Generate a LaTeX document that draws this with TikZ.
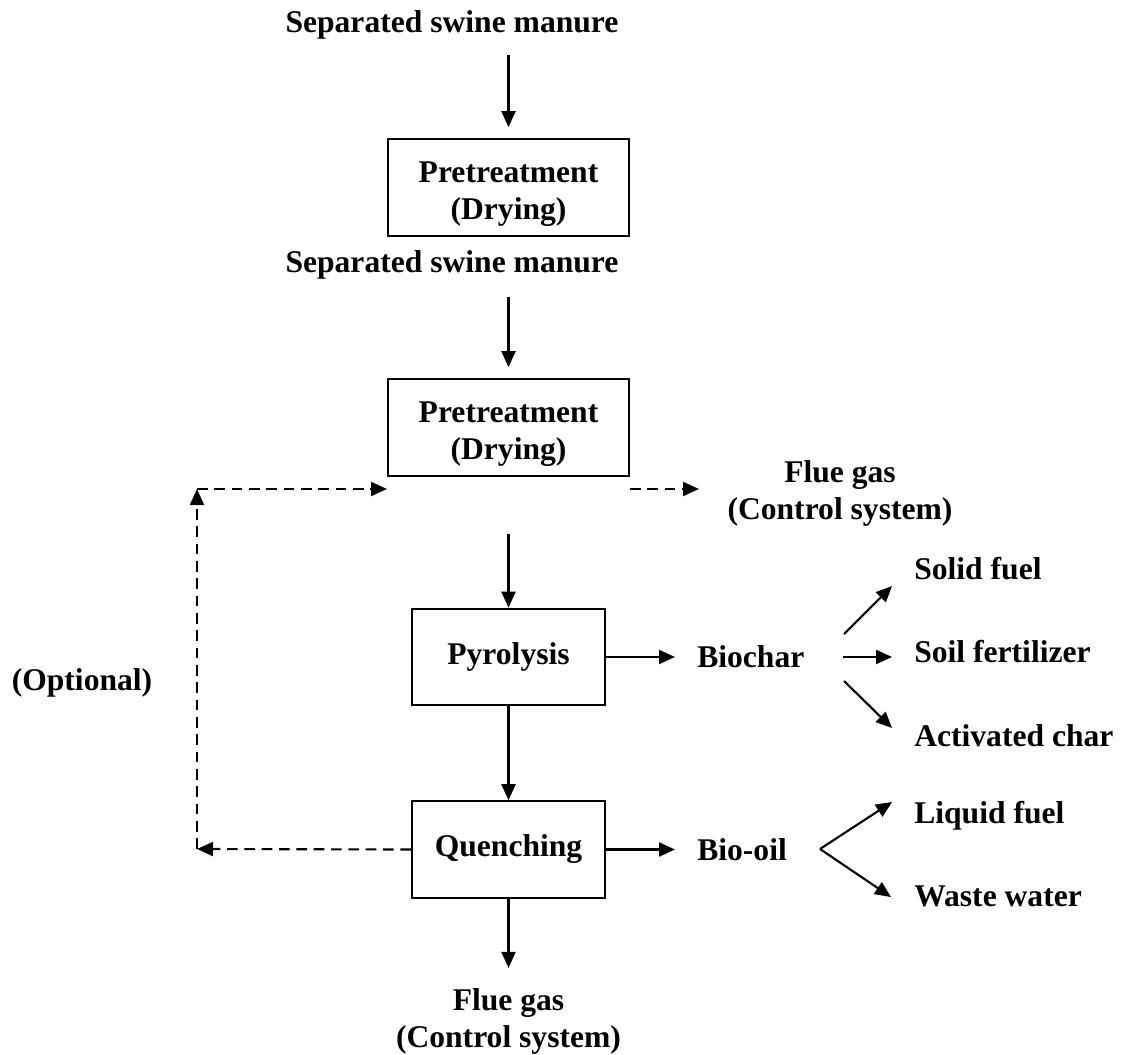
\documentclass[tikz,border=0pt]{standalone}
\usepackage{fontspec}
\setmainfont{Liberation Serif}
\usetikzlibrary{arrows.meta}

\begin{document}
\begin{tikzpicture}[x=0.75pt,y=-0.75pt,
    font=\fontsize{23.7pt}{27.7pt}\selectfont\bfseries]
\useasboundingbox (0,0) rectangle (1130,1055);
\begin{scope}[every node/.style={draw,line width=1.5pt,inner sep=0pt,align=center,
              minimum width=144.75pt,minimum height=72.5pt}]
    \node (pre1) [minimum width=180.75pt] at (508.5,187.5) {\rule{0pt}{26pt}Pretreatment\\(Drying)};
    \node (pre2) [minimum width=180.75pt] at (508.5,427.5) {\rule{0pt}{26pt}Pretreatment\\(Drying)};
    \node (pyro) at (508.5,657) {Pyrolysis};
    \node (quench) at (508.5,849.5) {Quenching};
\end{scope}
\begin{scope}[every node/.style={inner sep=0pt,align=center}]
    \node (feed1) [anchor=base] at (452,33) {Separated swine manure};
    \node (feed2) [anchor=base] at (452,273) {Separated swine manure};
    \node (flue1) [anchor=north] at (840,460.6) {Flue gas\\(Control system)};
    \node (flue2) [anchor=north] at (508.5,988.6) {Flue gas\\(Control system)};
    \node (opt) [anchor=base] at (82,690) {(Optional)};
    \node (biochar) [anchor=base west] at (697,667) {Biochar};
    \node (biooil) [anchor=base west] at (697,860) {Bio-oil};
    \node (solid) [anchor=base west] at (914,579) {Solid fuel};
    \node (soil) [anchor=base west] at (914,662) {Soil fertilizer};
    \node (active) [anchor=base west] at (914,746) {Activated char};
    \node (liquid) [anchor=base west] at (914,823) {Liquid fuel};
    \node (waste) [anchor=base west] at (914,906) {Waste water};
\end{scope}
% free ends of the branch and loop arrows
\coordinate (loop_dn) at (197,849);
\coordinate (loop_up) at (197,489);
\coordinate (flue1_in) at (699,489);
\coordinate (bc_up) at (844,634);
\coordinate (bc_up_end) at (892,586);
\coordinate (bc_mid) at (843,657);
\coordinate (bc_dn) at (844,681);
\coordinate (bc_dn_end) at (892,728);
\coordinate (bo_fork) at (820,849);
\coordinate (bo_up) at (892,802);
\coordinate (bo_dn) at (891,897);
\begin{scope}[>={Triangle[length=12pt,width=10.5pt]},
              solid_edge/.style={draw=black,line width=1.6pt},
              dash_edge/.style={draw=black,line width=1.6pt,dash pattern=on 8pt off 5pt}]
    \path [->] (feed1.south -| pre1.north) edge [solid_edge,shorten <=11.5pt,shorten >=8.25pt] (pre1.north);
    \path [->] (feed2.south -| pre2.north) edge [solid_edge,shorten <=12.75pt,shorten >=8.25pt] (pre2.north);
    \path [->] (pre2) edge [solid_edge,shorten <=42.75pt] (pyro);
    \path [->] (pyro) edge [solid_edge] (quench);
    \path [->] (quench.south) edge [solid_edge,shorten >=15.5pt] (flue2.north);
    \path [->] (pyro.east) edge [solid_edge,shorten >=16.5pt] (pyro.east -| biochar.west);
    \path [->] (quench.east) edge [solid_edge,shorten >=16.5pt] (quench.east -| biooil.west);
    \path [->] (bc_up) edge [solid_edge] (bc_up_end);
    \path [->] (bc_mid) edge [solid_edge,shorten >=16.5pt] (bc_mid -| soil.west);
    \path [->] (bc_dn) edge [solid_edge] (bc_dn_end);
    \path [->] (bo_fork) edge [solid_edge] (bo_up);
    \path [->] (bo_fork) edge [solid_edge] (bo_dn);
    \path [->] (quench.west) edge [dash_edge] (loop_dn);
    \path [->] (loop_dn) edge [dash_edge] (loop_up);
    \path [->] (loop_up) edge [dash_edge] (loop_up -| pre2.west);
    \path [->] (pre2.east |- loop_up) edge [dash_edge] (flue1_in);
\end{scope}
\end{tikzpicture}
\end{document}
